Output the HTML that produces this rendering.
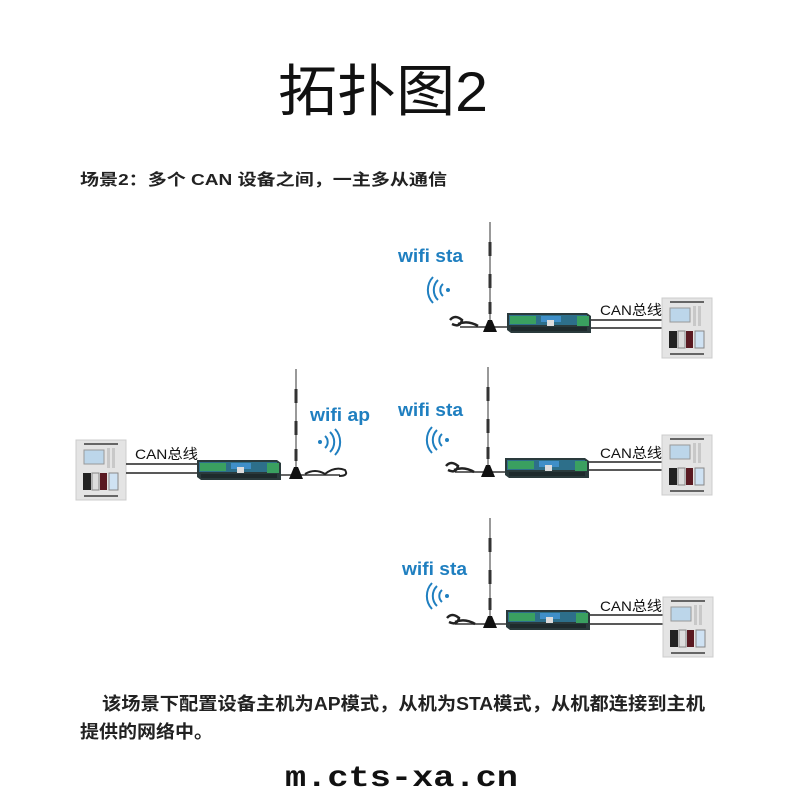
<!DOCTYPE html>
<html><head><meta charset="utf-8"><style>
html,body{margin:0;padding:0;background:#fff;}
svg{display:block;}
.t{font-family:"Liberation Sans","Noto Sans CJK SC",sans-serif;}
.w{font-family:"Liberation Sans","Noto Sans CJK SC",sans-serif;font-weight:bold;fill:#1f7fc0;font-size:18px;}
.c{font-family:"Liberation Sans","Noto Sans CJK SC",sans-serif;font-size:14px;fill:#111;}
</style></head><body>
<svg width="800" height="800" viewBox="0 0 800 800" xmlns="http://www.w3.org/2000/svg">
<defs>
<g id="router">
 <polygon points="0,0 80,0 84,3 84,20 4,20 0,17" fill="#2a3a3c"/>
 <rect x="2" y="2" width="78" height="10" fill="#2d6f8a"/>
 <rect x="3" y="3" width="26" height="8" fill="#3aa060"/>
 <rect x="34" y="3" width="20" height="6" fill="#3f8fc8"/>
 <rect x="40" y="7" width="7" height="6" fill="#ddd"/>
 <rect x="70" y="3" width="12" height="10" fill="#3aa060"/>
 <rect x="4" y="14" width="76" height="4" fill="#1e2a2c"/>
</g>
<g id="panel">
 <rect x="0" y="0" width="50" height="60" fill="#e4e4e4" stroke="#ccc"/>
 <rect x="8" y="3" width="34" height="2" fill="#666"/>
 <rect x="8" y="10" width="20" height="14" fill="#bcd6ea" stroke="#999"/>
 <rect x="31" y="8" width="3" height="20" fill="#c8c8c8"/>
 <rect x="36" y="8" width="3" height="20" fill="#c8c8c8"/>
 <rect x="7" y="33" width="8" height="17" fill="#222"/>
 <rect x="16" y="33" width="7" height="17" fill="#ddd" stroke="#888"/>
 <rect x="24" y="33" width="7" height="17" fill="#5a1a22"/>
 <rect x="33" y="33" width="9" height="17" fill="#cfe2f3" stroke="#888"/>
 <rect x="8" y="55" width="34" height="2" fill="#666"/>
</g>
<g id="ant">
 <line x1="0" y1="0" x2="0" y2="-110" stroke="#777" stroke-width="1.5"/>
 <rect x="-1.5" y="-90" width="3" height="14" fill="#333"/>
 <rect x="-1.5" y="-58" width="3" height="14" fill="#333"/>
 <rect x="-1.5" y="-30" width="3" height="12" fill="#333"/>
 <polygon points="-2,-12 2,-12 7,0 -7,0" fill="#111"/>
</g>
<g id="wavesR" fill="none" stroke="#1f7fc0" stroke-width="2">
 <circle cx="0" cy="0" r="2" fill="#1f7fc0" stroke="none"/>
 <path d="M5,-6 A8,8 0 0 1 5,6"/>
 <path d="M10,-10 A14,14 0 0 1 10,10"/>
 <path d="M15,-13 A19,19 0 0 1 15,13"/>
</g>
<g id="wavesL" fill="none" stroke="#1f7fc0" stroke-width="2">
 <circle cx="0" cy="0" r="2" fill="#1f7fc0" stroke="none"/>
 <path d="M-5,-6 A8,8 0 0 0 -5,6"/>
 <path d="M-10,-10 A14,14 0 0 0 -10,10"/>
 <path d="M-15,-13 A19,19 0 0 0 -15,13"/>
</g>
</defs>

<text class="t" x="278" y="111" font-size="56" textLength="210" lengthAdjust="spacingAndGlyphs" fill="#111">拓扑图2</text>
<text class="t" x="80" y="185" font-size="16" font-weight="bold" fill="#222" textLength="367" lengthAdjust="spacingAndGlyphs">场景2：多个 CAN 设备之间，一主多从通信</text>

<!-- left master -->
<use href="#panel" x="76" y="440"/>
<line x1="126" y1="464" x2="200" y2="464" stroke="#222" stroke-width="1.5"/>
<line x1="126" y1="473" x2="200" y2="473" stroke="#222" stroke-width="1.5"/>
<text class="c" x="135" y="459" textLength="63" lengthAdjust="spacingAndGlyphs">CAN总线</text>
<use href="#router" x="197" y="460"/>
<line x1="281" y1="475" x2="340" y2="475" stroke="#333" stroke-width="1.5"/>
<path d="M305,474 q10,-6 20,0 q10,-8 20,-4 q4,6 -6,6" fill="none" stroke="#222" stroke-width="2"/>
<use href="#ant" x="296" y="479"/>
<text class="w" x="310" y="421" textLength="60" lengthAdjust="spacingAndGlyphs">wifi ap</text>
<use href="#wavesR" x="320" y="442"/>

<!-- top slave -->
<use href="#router" x="507" y="313"/>
<line x1="591" y1="320" x2="663" y2="320" stroke="#222" stroke-width="1.5"/>
<line x1="591" y1="328" x2="663" y2="328" stroke="#222" stroke-width="1.5"/>
<text class="c" x="600" y="315" textLength="62" lengthAdjust="spacingAndGlyphs">CAN总线</text>
<use href="#panel" x="662" y="298"/>
<line x1="460" y1="327" x2="507" y2="327" stroke="#333" stroke-width="1.5"/>
<path d="M450,320 q5,-6 12,0 q-2,8 -10,4 M458,324 q10,-4 20,2" fill="none" stroke="#222" stroke-width="2.5"/>
<use href="#ant" x="490" y="332"/>
<text class="w" x="398" y="262" textLength="65" lengthAdjust="spacingAndGlyphs">wifi sta</text>
<use href="#wavesL" x="448" y="290"/>

<!-- middle slave -->
<use href="#router" x="505" y="458"/>
<line x1="589" y1="462" x2="663" y2="462" stroke="#222" stroke-width="1.5"/>
<line x1="589" y1="470" x2="663" y2="470" stroke="#222" stroke-width="1.5"/>
<text class="c" x="600" y="458" textLength="62" lengthAdjust="spacingAndGlyphs">CAN总线</text>
<use href="#panel" x="662" y="435"/>
<line x1="455" y1="472" x2="505" y2="472" stroke="#333" stroke-width="1.5"/>
<path d="M446,466 q5,-6 12,0 q-2,8 -10,4 M454,470 q10,-4 20,2" fill="none" stroke="#222" stroke-width="2.5"/>
<use href="#ant" x="488" y="477"/>
<text class="w" x="398" y="416" textLength="65" lengthAdjust="spacingAndGlyphs">wifi sta</text>
<use href="#wavesL" x="447" y="440"/>

<!-- bottom slave -->
<use href="#router" x="506" y="610"/>
<line x1="590" y1="615" x2="664" y2="615" stroke="#222" stroke-width="1.5"/>
<line x1="590" y1="624" x2="664" y2="624" stroke="#222" stroke-width="1.5"/>
<text class="c" x="600" y="611" textLength="62" lengthAdjust="spacingAndGlyphs">CAN总线</text>
<use href="#panel" x="663" y="597"/>
<line x1="455" y1="624" x2="506" y2="624" stroke="#333" stroke-width="1.5"/>
<path d="M447,618 q5,-6 12,0 q-2,8 -10,4 M455,622 q10,-4 20,2" fill="none" stroke="#222" stroke-width="2.5"/>
<use href="#ant" x="490" y="628"/>
<text class="w" x="402" y="575" textLength="65" lengthAdjust="spacingAndGlyphs">wifi sta</text>
<use href="#wavesL" x="447" y="596"/>

<text class="t" x="102" y="710" font-size="18" font-weight="bold" fill="#222" textLength="603" lengthAdjust="spacingAndGlyphs">该场景下配置设备主机为AP模式，从机为STA模式，从机都连接到主机</text>
<text class="t" x="80" y="738" font-size="18" font-weight="bold" fill="#222" textLength="133" lengthAdjust="spacingAndGlyphs">提供的网络中。</text>
<text x="285" y="786" font-family="Liberation Mono, monospace" font-size="30" font-weight="bold" fill="#111" textLength="233" lengthAdjust="spacingAndGlyphs">m.cts-xa.cn</text>
</svg>
</body></html>
